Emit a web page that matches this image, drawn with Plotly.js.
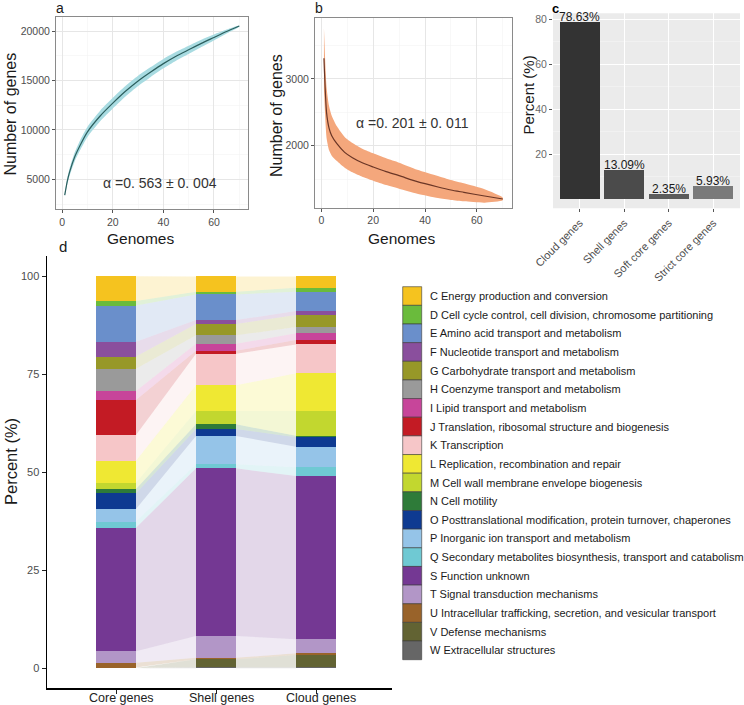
<!DOCTYPE html>
<html><head><meta charset="utf-8">
<script src="https://cdn.plot.ly/plotly-3.0.1.min.js"></script>
<style>html,body{margin:0;padding:0;background:#fff}#chart{width:744px;height:705px}</style>
</head><body><div id="chart"></div>
<script>
// ---------- Panel a: pan-genome accumulation ----------
const panGenomes = [1, 2, 3, 5, 7, 10, 15, 20, 25, 30, 35, 40, 45, 50, 55, 60, 65, 70];
const panMean    = [3400, 4800, 5800, 7300, 8400, 9800, 11400, 12700, 13900, 14950, 15850, 16700, 17450, 18100, 18750, 19350, 19950, 20500];
const panLower   = [3250, 4500, 5420, 6850, 7900, 9280, 10860, 12160, 13370, 14430, 15350, 16220, 17000, 17680, 18380, 19050, 19750, 20440];
const panUpper   = [3550, 5100, 6180, 7750, 8900, 10320, 11940, 13240, 14430, 15470, 16350, 17180, 17900, 18520, 19120, 19650, 20150, 20560];
const panYTicks  = [5000, 10000, 15000, 20000];
const panYTickText = ["5000", "10000", "15000", "20000"];
const panAlphaText = "α =0. 563 ± 0. 004";

// ---------- Panel b: core-genome accumulation ----------
const coreGenomes = [1, 2, 3, 4, 6, 9, 12, 16, 20, 25, 30, 37, 45, 50, 55, 63, 70];
const coreMean    = [3310, 2500, 2260, 2150, 2030, 1900, 1820, 1740, 1680, 1610, 1550, 1460, 1380, 1335, 1300, 1245, 1200];
const coreLower   = [2850, 2120, 1930, 1850, 1770, 1670, 1600, 1530, 1475, 1410, 1355, 1280, 1215, 1185, 1165, 1145, 1180];
const coreUpper   = [3770, 2880, 2590, 2450, 2290, 2130, 2040, 1950, 1885, 1810, 1745, 1640, 1545, 1485, 1435, 1345, 1220];
const coreYTicks  = [2000, 3000];
const coreAlphaText = "α =0. 201 ± 0. 011";
const genomeTicks = [0, 20, 40, 60];

// ---------- Panel c: gene categories ----------
const geneCats = ["Cloud genes", "Shell genes", "Soft core genes", "Strict core genes"];
const genePct  = [78.63, 13.09, 2.35, 5.93];
const pctTicks = [20, 40, 60, 80];

// ---------- Panel d: COG composition ----------
const groups = ["Core genes", "Shell genes", "Cloud genes"];
const cogLabels = [
  "C Energy production and conversion",
  "D Cell cycle control, cell division, chromosome partitioning",
  "E Amino acid transport and metabolism",
  "F Nucleotide transport and metabolism",
  "G Carbohydrate transport and metabolism",
  "H Coenzyme transport and metabolism",
  "I Lipid transport and metabolism",
  "J Translation, ribosomal structure and biogenesis",
  "K Transcription",
  "L Replication, recombination and repair",
  "M Cell wall membrane envelope biogenesis",
  "N Cell motility",
  "O Posttranslational modification, protein turnover, chaperones",
  "P Inorganic ion transport and metabolism",
  "Q Secondary metabolites biosynthesis, transport and catabolism",
  "S Function unknown",
  "T Signal transduction mechanisms",
  "U Intracellular trafficking, secretion, and vesicular transport",
  "V Defense mechanisms",
  "W Extracellular structures"
];
const corePct  = [6.3, 1.2, 9.2, 3.8, 3.1, 5.7, 2.3, 8.9, 6.6, 5.6, 1.6, 1.1, 4.0, 3.2, 1.6, 31.5, 2.95, 1.2, 0.15, 0.05];
const shellPct = [3.93, 0.67, 6.55, 1.02, 2.88, 2.15, 1.8, 0.74, 8.06, 6.56, 3.4, 1.19, 1.79, 7.22, 1.02, 42.78, 5.54, 0.4, 2.04, 0.26];
const cloudPct = [2.91, 1.02, 4.92, 1.02, 3.06, 1.61, 1.71, 1.1, 7.39, 9.62, 6.3, 0.41, 2.4, 5.25, 2.22, 41.66, 3.57, 0.44, 3.13, 0.26];
const dTicks = [0, 25, 50, 75, 100];

// ---------- styles ----------
const cogColors = ["#f5c31f","#6abb3c","#6a8fcb","#8a4f9d","#979828","#9a9a9a","#c7459a","#c31b24","#f6c6c8","#efe833",
                   "#c2d72f","#2e7b39","#0e3a91","#95c4e8","#6fc9d3","#743893","#b296c7","#99632a","#626333","#666666"];
const barGreys = ["#333333", "#4b4b4b", "#5c5c5c", "#7a7a7a"];
const FONT = "Liberation Sans, Arial, Helvetica, sans-serif";
const W = 744, H = 705;
const px = v => v / W, py = v => 1 - v / H;
function rgba(hex, a){const n=parseInt(hex.slice(1),16);return `rgba(${n>>16&255},${n>>8&255},${n&255},${a})`;}

const traces = [];
// panel a
traces.push({type:'scatter', mode:'lines', x: panGenomes.concat(panGenomes.slice().reverse()),
  y: panUpper.concat(panLower.slice().reverse()), fill:'toself', fillcolor:'#a8dbe1',
  line:{width:0, shape:'spline', smoothing:0.6}, xaxis:'x', yaxis:'y', hoverinfo:'skip', showlegend:false});
traces.push({type:'scatter', mode:'lines', x: panGenomes, y: panMean, line:{color:'#2c5f5e', width:1.2, shape:'spline', smoothing:0.6},
  xaxis:'x', yaxis:'y', showlegend:false});
// panel b
traces.push({type:'scatter', mode:'lines', x: coreGenomes.concat(coreGenomes.slice().reverse()),
  y: coreUpper.concat(coreLower.slice().reverse()), fill:'toself', fillcolor:'#f4a77c',
  line:{width:0, shape:'spline', smoothing:0.6}, xaxis:'x2', yaxis:'y2', hoverinfo:'skip', showlegend:false});
traces.push({type:'scatter', mode:'lines', x: coreGenomes, y: coreMean, line:{color:'#6b3626', width:1.2, shape:'spline', smoothing:0.6},
  xaxis:'x2', yaxis:'y2', showlegend:false});
// panel c
traces.push({type:'bar', x: geneCats, y: genePct, width:0.9, marker:{color: barGreys, line:{width:0}},
  xaxis:'x3', yaxis:'y3', showlegend:false});

// panel d: flows
const series = [corePct, shellPct, cloudPct];
const nCog = cogLabels.length;
function bounds(arr, k){let b=0; for(let j=k+1;j<nCog;j++) b+=arr[j]; return [b, b+arr[k]];}
const halfW = 0.2;
for (let k = nCog - 1; k >= 0; k--) {
  for (let g = 0; g < groups.length - 1; g++) {
    const [b0, t0] = bounds(series[g], k);
    const [b1, t1] = bounds(series[g+1], k);
    traces.push({type:'scatter', mode:'lines', x:[g+halfW, g+1-halfW, g+1-halfW, g+halfW, g+halfW],
      y:[b0, b1, t1, t0, b0], fill:'toself', fillcolor: rgba(cogColors[k], 0.2), line:{width:0},
      xaxis:'x4', yaxis:'y4', hoverinfo:'skip', showlegend:false});
  }
}
// panel d: stacked bars (W at the bottom, C on top)
for (let k = nCog - 1; k >= 0; k--) {
  traces.push({type:'bar', x:[0,1,2], y: series.map(s => s[k]), width: 2*halfW, name: cogLabels[k],
    marker:{color: cogColors[k], line:{width:0}}, xaxis:'x4', yaxis:'y4', showlegend:false});
}

const tickFont = {size:10.5, color:'#4d4d4d', family:FONT};
const bwAxis = (extra) => Object.assign({showline:true, mirror:true, linecolor:'#8a8a8a', linewidth:1,
  ticks:'outside', ticklen:3, tickcolor:'#555', tickfont:tickFont, zeroline:false, showgrid:true,
  gridcolor:'#e6e6e6', gridwidth:1, fixedrange:true}, extra);

const annotations = [];
const ann = (text, x, y, size, opt) => annotations.push(Object.assign({text, x:px(x), y:py(y), xref:'paper', yref:'paper',
  showarrow:false, font:{size, color:'#1a1a1a', family:FONT}, xanchor:'center', yanchor:'middle'}, opt||{}));
ann('a', 60, 8.5, 14);
ann('b', 318.7, 8.5, 14);
ann('c', 555, 8.5, 13, {font:{size:13, color:'#000', family:FONT, weight:'bold'}, borderpad:0});
ann('d', 63.3, 246, 15);
ann('Number of genes', 9.5, 114, 16, {textangle:-90});
ann('Number of genes', 276, 116, 16, {textangle:-90});
ann('Genomes', 140, 238, 15.5);
ann('Genomes', 401, 238, 15.5);
ann('Percent (%)', 528.5, 95, 15, {textangle:-90});
ann('Percent (%)', 11, 462, 16.5, {textangle:-90});
annotations.push({text: panAlphaText, x:38.6, y:4648, xref:'x', yref:'y', showarrow:false, font:{size:14, color:'#333', family:FONT}});
annotations.push({text: coreAlphaText, x:35.1, y:2336, xref:'x2', yref:'y2', showarrow:false, font:{size:14, color:'#333', family:FONT}});
// bar value labels (panel c)
genePct.forEach((v, i) => annotations.push({text: v.toFixed(2) + '%', x: geneCats[i], y: v, xref:'x3', yref:'y3',
  yanchor:'bottom', yshift:-3, borderpad:0, showarrow:false, font:{size:12, color:'#1a1a1a', family:FONT}}));
// group labels (panel d x axis)
groups.forEach((g, i) => annotations.push({text: g, x: i + 0.05, xref:'x4', y: py(698), yref:'paper', yanchor:'middle',
  showarrow:false, font:{size:12.5, color:'#222', family:FONT}}));

// custom legend for panel d
const shapes = [];
const legTop = 286.7, legStep = 18.65;
cogLabels.forEach((lab, i) => {
  const y0 = legTop + i*legStep;
  shapes.push({type:'rect', xref:'paper', yref:'paper', x0:px(402.7), x1:px(421.7), y0:py(y0), y1:py(y0+legStep),
    fillcolor: cogColors[i], line:{color:'#3a3a3a', width:0.6}});
  ann(lab, 428.3, y0 + legStep/2, 11, {xanchor:'left'});
});
// grey panel background for c
shapes.push({type:'rect', xref:'x3 domain', yref:'y3 domain', x0:0, x1:1, y0:0, y1:1, fillcolor:'#ebebeb', line:{width:0}, layer:'below'});

const layout = {
  width: W, height: H, margin:{l:0, r:0, t:0, b:0}, paper_bgcolor:'#fff', plot_bgcolor:'rgba(0,0,0,0)',
  font:{family:FONT}, barmode:'stack', showlegend:false, hovermode:false,
  xaxis: bwAxis({domain:[px(56), px(248)], anchor:'y', range:[-2.45, 73.45], tickvals: genomeTicks,
    minor:{tickmode:'linear', tick0:0, dtick:10, showgrid:true, gridcolor:'#f3f3f3', gridwidth:0.6, ticks:''}}),
  yaxis: bwAxis({domain:[py(209), py(16.7)], anchor:'x', range:[1994, 21447], tickvals: panYTicks, ticktext: panYTickText,
    minor:{tickmode:'linear', tick0:0, dtick:2500, showgrid:true, gridcolor:'#f3f3f3', gridwidth:0.6, ticks:''}}),
  xaxis2: bwAxis({domain:[px(315), px(511.7)], anchor:'y2', range:[-2.45, 73.45], tickvals: genomeTicks,
    minor:{tickmode:'linear', tick0:0, dtick:10, showgrid:true, gridcolor:'#f3f3f3', gridwidth:0.6, ticks:''}}),
  yaxis2: bwAxis({domain:[py(207.7), py(18.3)], anchor:'x2', range:[1070, 3910], tickvals: coreYTicks,
    minor:{tickmode:'linear', tick0:500, dtick:1000, showgrid:true, gridcolor:'#f3f3f3', gridwidth:0.6, ticks:''}}),
  xaxis3: {domain:[px(553), px(740)], anchor:'y3', type:'category', range:[-0.6, 3.6], showline:false, zeroline:false,
    showgrid:true, gridcolor:'#ffffff', gridwidth:1, ticks:'outside', ticklen:3, tickcolor:'#555', tickangle:-45,
    tickfont:{size:11, color:'#4d4d4d', family:FONT}, fixedrange:true},
  yaxis3: {domain:[py(208.3), py(13.3)], anchor:'x3', range:[-3.93, 82.56], tickvals: pctTicks, showline:false, zeroline:false,
    showgrid:true, gridcolor:'#ffffff', gridwidth:1.1, ticks:'outside', ticklen:3, tickcolor:'#555',
    tickfont:{size:10.5, color:'#6a6a6a', family:FONT},
    minor:{tickvals:[10,30,50,70], showgrid:true, gridcolor:'#f7f7f7', gridwidth:0.5, ticks:''}, fixedrange:true},
  xaxis4: {domain:[px(47), px(392)], anchor:'y4', range:[-0.69, 2.76], tickvals:[0,1,2], ticktext:['','',''],
    showline:true, linecolor:'#000', linewidth:1.5, ticks:'outside', ticklen:4, tickcolor:'#222', showgrid:false, zeroline:false,
    fixedrange:true},
  yaxis4: {domain:[py(688.3), py(256)], anchor:'x4', range:[-5.1, 105.2], tickvals: dTicks,
    showline:true, linecolor:'#000', linewidth:1.5, ticks:'outside', ticklen:4, tickcolor:'#222', showgrid:false, zeroline:false,
    tickfont:{size:11, color:'#4d4d4d', family:FONT}, fixedrange:true},
  annotations, shapes
};
Plotly.newPlot('chart', traces, layout, {staticPlot:true, displayModeBar:false});
</script>
</body></html>
